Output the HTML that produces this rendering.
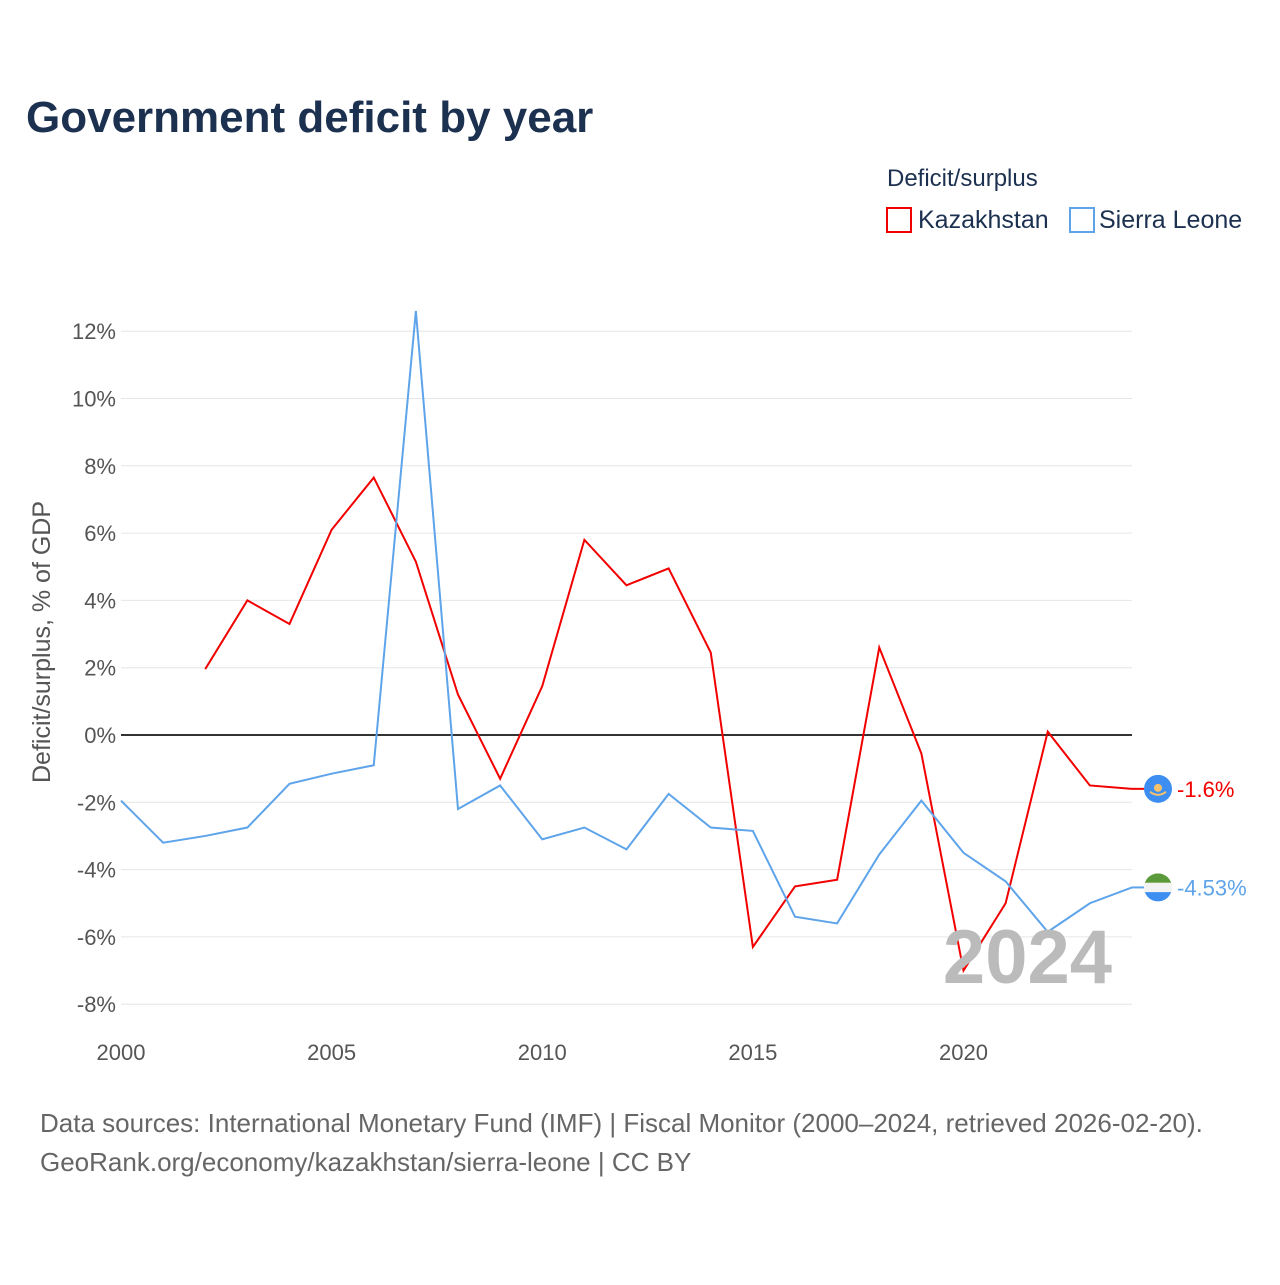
<!DOCTYPE html>
<html><head><meta charset="utf-8">
<style>
body{margin:0;background:#fff;font-family:"Liberation Sans",sans-serif;}
</style></head>
<body>
<svg id="chart" width="1280" height="1280" xmlns="http://www.w3.org/2000/svg" font-family="Liberation Sans, sans-serif">
<defs>
<clipPath id="slclip"><circle cx="1158" cy="887" r="14"/></clipPath>
</defs>
<rect width="1280" height="1280" fill="#fff"/>
<text x="26" y="132" font-size="44" font-weight="bold" fill="#1c3150">Government deficit by year</text>
<text x="887" y="186" font-size="24" fill="#1c3150">Deficit/surplus</text>
<rect x="887" y="208" width="24" height="24" fill="none" stroke="#f20000" stroke-width="2"/>
<text x="918" y="228" font-size="25" fill="#1c3150">Kazakhstan</text>
<rect x="1070" y="208" width="24" height="24" fill="none" stroke="#5ea4ea" stroke-width="2"/>
<text x="1099" y="228" font-size="25" fill="#1c3150">Sierra Leone</text>
<text transform="translate(50,642) rotate(-90)" text-anchor="middle" font-size="25" fill="#555">Deficit/surplus, % of GDP</text>
<g id="grid"></g><g id="series"></g>
<text x="1112" y="983" text-anchor="end" font-size="76" font-weight="bold" fill="#bbb">2024</text>
<text x="40" y="1132" font-size="26" fill="#666">Data sources: International Monetary Fund (IMF) | Fiscal Monitor (2000–2024, retrieved 2026-02-20).</text>
<text x="40" y="1171" font-size="26" fill="#666">GeoRank.org/economy/kazakhstan/sierra-leone | CC BY</text>
</svg>
<script>
const years=[2000,2001,2002,2003,2004,2005,2006,2007,2008,2009,2010,2011,2012,2013,2014,2015,2016,2017,2018,2019,2020,2021,2022,2023,2024];
const kazakhstan=[null,null,1.96,4.0,3.3,6.1,7.65,5.15,1.2,-1.3,1.45,5.8,4.45,4.95,2.45,-6.3,-4.5,-4.3,2.6,-0.55,-7.0,-5.0,0.1,-1.5,-1.6];
const sierraLeone=[-1.95,-3.2,-3.0,-2.75,-1.45,-1.15,-0.9,12.6,-2.2,-1.5,-3.1,-2.75,-3.4,-1.75,-2.75,-2.85,-5.4,-5.6,-3.55,-1.95,-3.5,-4.35,-5.85,-5.0,-4.53];
const yTicks=[12,10,8,6,4,2,0,-2,-4,-6,-8];
const xTicks=[2000,2005,2010,2015,2020];
const NS="http://www.w3.org/2000/svg";
const x=y=>121+(y-2000)*(1132-121)/24;
const yv=v=>735-v*33.65;
const grid=document.getElementById('grid'),ser=document.getElementById('series');
function mk(tag,attrs,parent){const e=document.createElementNS(NS,tag);for(const k in attrs)e.setAttribute(k,attrs[k]);parent.appendChild(e);return e;}
yTicks.forEach(t=>{
 const l=mk('line',{x1:121,x2:1132,y1:yv(t),y2:yv(t),stroke:t===0?'#333':'#e6e6e6','stroke-width':t===0?2:1},grid);
 
 
 const tx=mk('text',{x:116,y:yv(t)+8,'text-anchor':'end','font-size':22,fill:'#555'},grid);
 tx.textContent=t+'%';
 
 
});
xTicks.forEach(t=>{
 const tx=mk('text',{x:x(t),y:1060,'text-anchor':'middle','font-size':22,fill:'#555'},grid);
 tx.textContent=t;
 
 
});
function line(vals,color,name,flag){
 let d='';let started=false;
 vals.forEach((v,i)=>{if(v===null)return;d+=(started?'L':'M')+x(years[i])+','+yv(v);started=true;});
 const p=mk('path',{d:d,fill:'none',stroke:color,'stroke-width':2},ser);
 
 
 const last=vals[vals.length-1];
 const cy=yv(last);
 mk('line',{x1:1132,x2:1144,y1:cy,y2:cy,stroke:color,'stroke-width':2},ser);
 const g=mk('g',{},ser);
 
 
 if(flag==='kz'){
  mk('circle',{cx:1158,cy:cy,r:14,fill:'#3d8ef0'},g);
  mk('circle',{cx:1158,cy:cy-1,r:4,fill:'#f5c26b'},g);
  mk('path',{d:`M1150,${cy+3} Q1158,${cy+9} 1166,${cy+3}`,fill:'none',stroke:'#f5c26b','stroke-width':2},g);
 } else {
  const cid='clip-'+name;
  const cp=mk('clipPath',{id:cid},g);
  mk('circle',{cx:1158,cy:cy,r:14},cp);
  mk('rect',{x:1144,y:cy-14,width:28,height:9.5,fill:'#5a9a3a','clip-path':`url(#${cid})`},g);
  mk('rect',{x:1144,y:cy-4.7,width:28,height:9.4,fill:'#f2f2f2','clip-path':`url(#${cid})`},g);
  mk('rect',{x:1144,y:cy+4.7,width:28,height:9.5,fill:'#3d8ef0','clip-path':`url(#${cid})`},g);
 }
 const lbl=mk('text',{x:1177,y:cy+8,'font-size':22,fill:color},ser);
 lbl.textContent=last+'%';
 
 
}
line(kazakhstan,'#f20000','kazakhstan','kz');
line(sierraLeone,'#5ea4ea','sierra-leone','sl');
</script>
</body></html>
